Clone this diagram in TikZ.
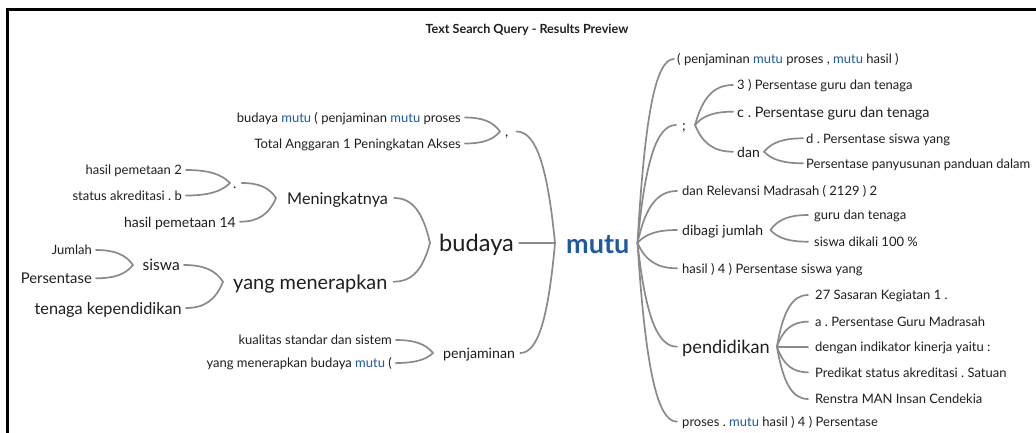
\documentclass[tikz,border=0pt]{standalone}
\usepackage{fontspec}
\setmainfont{Lato}
\usetikzlibrary{calc}
\definecolor{lnk}{HTML}{8A8A8A}
\definecolor{mblue}{HTML}{1F5A9E}
\definecolor{ink}{HTML}{1E1E1E}
\frenchspacing
\newcommand\mtword{\textcolor{mblue}{mutu}}
\newcommand\lk[2]{\draw[conn] let \p1=(#1), \p2=(#2) in (\p1) .. controls ({\x1+0.2*(\x2-\x1)},{\y1+0.7*(\y2-\y1)}) and ({\x2-0.5*(\x2-\x1)},\y2) .. (\p2);}
% left: parent, child, parent gap, child gap
\newcommand\lkl[4]{\lk{$(#1.west)+(-#3pt,0)$}{$(#2.east)+(#4pt,0)$}}
% right: parent, child, parent gap, child gap
\newcommand\lkr[4]{\lk{$(#1.east)+(#3pt,0)$}{$(#2.west)+(-#4pt,0)$}}
\tikzset{
  conn/.style={draw=lnk, line width=1.7pt, line cap=round},
  base/.style={inner sep=0pt, text=ink},
  L/.style={base, anchor=east},
  R/.style={base, anchor=west},
  fsz/.style={font=\fontsize{#1}{#1}\selectfont\frenchspacing, text height={0.76*#1pt}, text depth=0pt},
}
\begin{document}
\begin{tikzpicture}[x=1pt,y=-1pt]
\useasboundingbox (0,0) rectangle (1036,432);
\draw[line width=3pt] (7,433) -- (7,9.5) -- (1037,9.5);
\node[font=\bfseries\fontsize{12.6}{14}\selectfont, text=ink] (title) at (527,30) {Text Search Query - Results Preview};
% left side
\node[L,fsz=13] (b1) at (461,117.5) {budaya \mtword{} ( penjaminan \mtword{} proses};
\node[L,fsz=13] (b2) at (461,143.5) {Total Anggaran 1 Peningkatan Akses};
\node[R,fsz=14] (cm) at (505,131.5) {,};
\node[L,fsz=13] (hp2) at (182,170) {hasil pemetaan 2};
\node[L,fsz=13] (sa) at (182,195.5) {status akreditasi . b};
\node[R,fsz=14] (dt) at (233,183) {.};
\node[L,fsz=14] (hp14) at (236,221.7) {hasil pemetaan 14};
\node[R,fsz=16.2] (men) at (287,198) {Meningkatnya};
\node[L,fsz=13] (jum) at (92,250) {Jumlah};
\node[L,fsz=14.8] (pers) at (92,278.3) {Persentase};
\node[R,fsz=15.6] (sis) at (142.5,265) {siswa};
\node[L,fsz=16.3] (tk) at (182,308) {tenaga kependidikan};
\node[R,fsz=19.9] (ym) at (233,281.7) {yang menerapkan};
\node[R,fsz=23.6] (bud) at (439,243) {budaya};
\node[L,fsz=13] (kual) at (392,340) {kualitas standar dan sistem};
\node[L,fsz=13] (ymb) at (392,363) {yang menerapkan budaya \mtword{} (};
\node[R,fsz=14.2] (penj) at (443,353) {penjaminan};
\node[R,fsz=27,text=mblue,font=\bfseries\fontsize{27}{27}\selectfont] (mutu) at (566,243) {mutu};
% right side
\node[R,fsz=13] (r1) at (677,59) {( penjaminan \mtword{} proses , \mtword{} hasil )};
\node[R,fsz=14] (sc) at (682,125) {;};
\node[R,fsz=13] (s1) at (737,85) {3 ) Persentase guru dan tenaga};
\node[R,fsz=14.4] (s2) at (737,111.7) {c . Persentase guru dan tenaga};
\node[R,fsz=14] (dan) at (737,151.7) {dan};
\node[R,fsz=13] (d1) at (806,138.3) {d . Persentase siswa yang};
\node[R,fsz=13] (d2) at (806,163.3) {Persentase panyusunan panduan dalam};
\node[R,fsz=13] (r3) at (682,191) {dan Relevansi Madrasah ( 2129 ) 2};
\node[R,fsz=14] (dj) at (682,230) {dibagi jumlah};
\node[R,fsz=13] (g1) at (814,215) {guru dan tenaga};
\node[R,fsz=13] (g2) at (814,241.7) {siswa dikali 100 \%};
\node[R,fsz=13] (r5) at (682,268.3) {hasil ) 4 ) Persentase siswa yang};
\node[R,fsz=18.2] (pend) at (682,346.7) {pendidikan};
\node[R,fsz=13] (p1) at (815,295) {27 Sasaran Kegiatan 1 .};
\node[R,fsz=13] (p2) at (815,321.7) {a . Persentase Guru Madrasah};
\node[R,fsz=13] (p3) at (815,346.7) {dengan indikator kinerja yaitu :};
\node[R,fsz=13] (p4) at (815,372.3) {Predikat status akreditasi . Satuan};
\node[R,fsz=13] (p5) at (815,399) {Renstra MAN Insan Cendekia};
\node[R,fsz=13] (r7) at (682,421.7) {proses . \mtword{} hasil ) 4 ) Persentase};
% connectors left
\lkl{cm}{b1}{5}{4}
\lkl{cm}{b2}{5}{4}
\lkl{dt}{hp2}{3}{4}
\lkl{dt}{sa}{3}{4}
\lkl{men}{dt}{11}{5}
\lkl{men}{hp14}{11}{4}
\lkl{sis}{jum}{9.5}{4}
\lkl{sis}{pers}{9.5}{4}
\lkl{ym}{sis}{10}{4}
\lkl{ym}{tk}{10}{4}
\lkl{bud}{men}{9}{6}
\lkl{bud}{ym}{9}{6}
\lkl{penj}{kual}{10}{4}
\lkl{penj}{ymb}{10}{4}
\lkl{mutu}{cm}{11}{8}
\lkl{mutu}{bud}{11}{5}
\lkl{mutu}{penj}{11}{5}
% connectors right
\lkr{mutu}{r1}{8}{3}
\lkr{mutu}{sc}{8}{6}
\lkr{mutu}{r3}{8}{5}
\lkr{mutu}{dj}{8}{5}
\lkr{mutu}{r5}{8}{5}
\lkr{mutu}{pend}{8}{5}
\lkr{mutu}{r7}{8}{5}
\lkr{sc}{s1}{9}{4}
\lkr{sc}{s2}{9}{4}
\lkr{sc}{dan}{9}{4}
\lkr{dan}{d1}{4}{3}
\lkr{dan}{d2}{4}{3}
\lkr{dj}{g1}{7}{6}
\lkr{dj}{g2}{7}{6}
\lkr{pend}{p1}{7}{7}
\lkr{pend}{p2}{7}{7}
\lkr{pend}{p3}{7}{7}
\lkr{pend}{p4}{7}{7}
\lkr{pend}{p5}{7}{7}
\end{tikzpicture}
\end{document}
